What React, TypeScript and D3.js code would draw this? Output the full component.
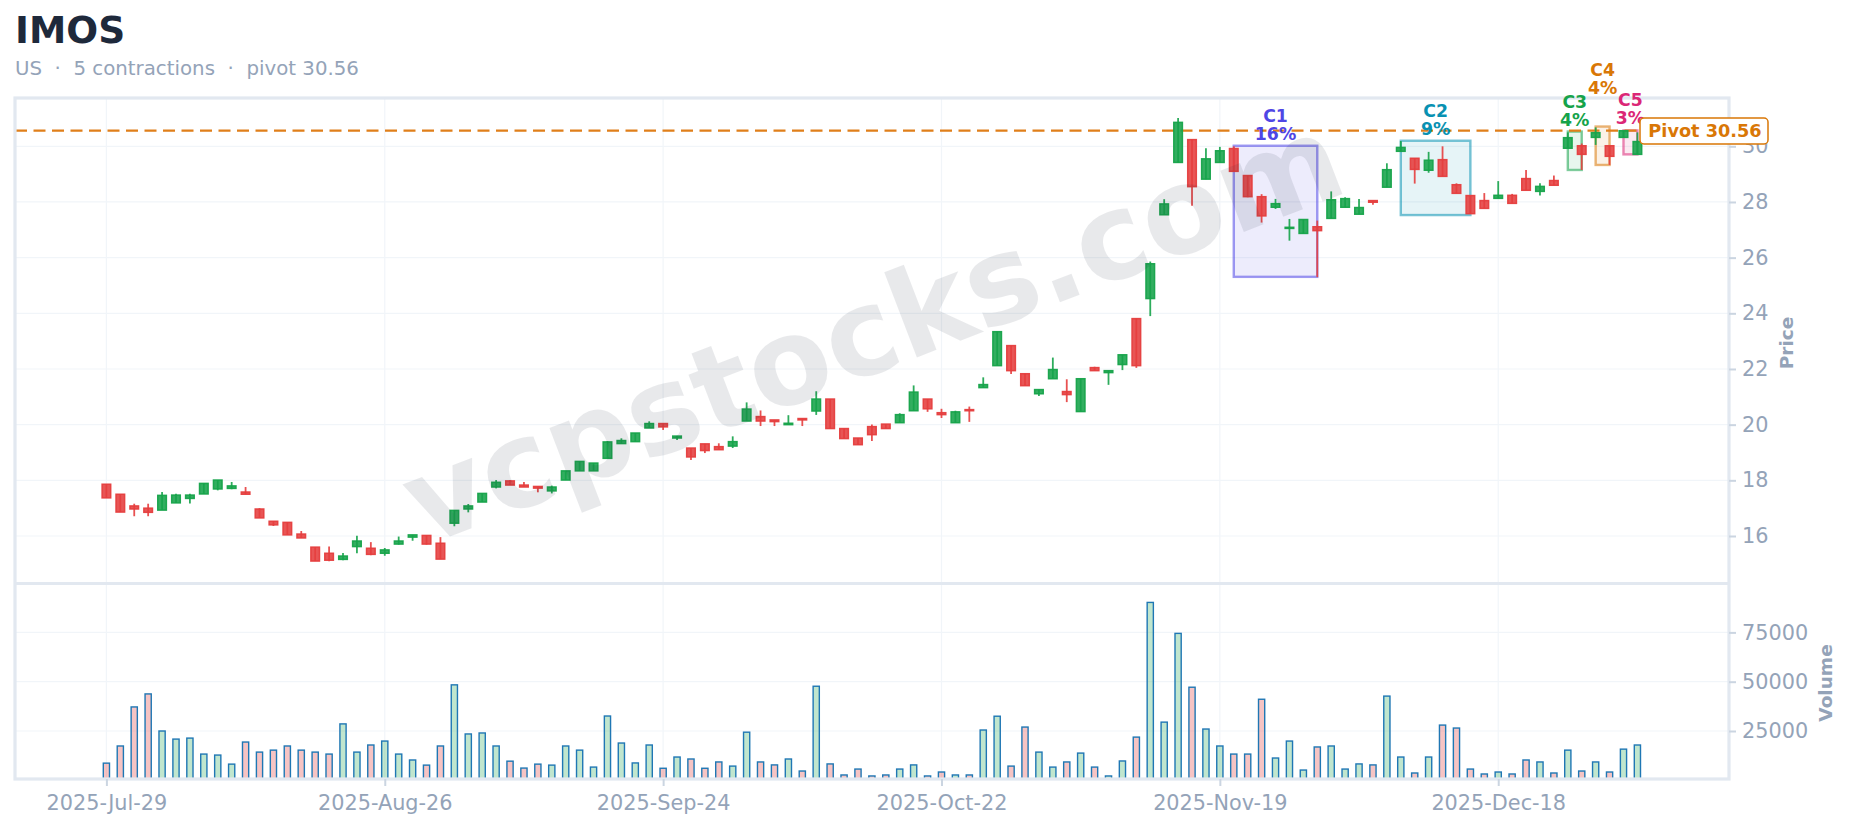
import React, { useEffect, useRef } from "react";
import * as d3 from "d3";

const dates = [
  "2025-07-29","2025-07-30","2025-07-31","2025-08-01",
  "2025-08-04","2025-08-05","2025-08-06","2025-08-07","2025-08-08",
  "2025-08-11","2025-08-12","2025-08-13","2025-08-14","2025-08-15",
  "2025-08-18","2025-08-19","2025-08-20","2025-08-21","2025-08-22",
  "2025-08-25","2025-08-26","2025-08-27","2025-08-28","2025-08-29",
  "2025-09-02","2025-09-03","2025-09-04","2025-09-05",
  "2025-09-08","2025-09-09","2025-09-10","2025-09-11","2025-09-12",
  "2025-09-15","2025-09-16","2025-09-17","2025-09-18","2025-09-19",
  "2025-09-22","2025-09-23","2025-09-24","2025-09-25","2025-09-26",
  "2025-09-29","2025-09-30","2025-10-01","2025-10-02","2025-10-03",
  "2025-10-06","2025-10-07","2025-10-08","2025-10-09","2025-10-10",
  "2025-10-13","2025-10-14","2025-10-15","2025-10-16","2025-10-17",
  "2025-10-20","2025-10-21","2025-10-22","2025-10-23","2025-10-24",
  "2025-10-27","2025-10-28","2025-10-29","2025-10-30","2025-10-31",
  "2025-11-03","2025-11-04","2025-11-05","2025-11-06","2025-11-07",
  "2025-11-10","2025-11-11","2025-11-12","2025-11-13","2025-11-14",
  "2025-11-17","2025-11-18","2025-11-19","2025-11-20","2025-11-21",
  "2025-11-24","2025-11-25","2025-11-26","2025-11-28",
  "2025-12-01","2025-12-02","2025-12-03","2025-12-04","2025-12-05",
  "2025-12-08","2025-12-09","2025-12-10","2025-12-11","2025-12-12",
  "2025-12-15","2025-12-16","2025-12-17","2025-12-18","2025-12-19",
  "2025-12-22","2025-12-23","2025-12-24","2025-12-26",
  "2025-12-29","2025-12-30","2025-12-31","2026-01-02","2026-01-05",
];

const open = [
  17.86,17.50,17.08,17.00,16.93,17.19,17.35,17.51,17.69,17.71,
  17.58,16.97,16.53,16.49,16.07,15.60,15.38,15.16,15.62,15.56,
  15.38,15.71,15.96,16.02,15.74,16.46,16.97,17.22,17.76,17.98,
  17.83,17.78,17.62,18.01,18.34,18.34,18.79,19.32,19.39,19.88,
  20.04,19.52,19.16,19.31,19.21,19.23,20.13,20.29,20.17,20.00,
  20.22,20.49,20.92,19.86,19.52,19.93,20.02,20.07,20.50,20.92,
  20.43,20.07,20.54,21.33,22.12,22.84,21.83,21.11,21.65,21.19,
  20.47,22.05,21.87,22.16,23.81,24.53,27.54,29.42,30.24,28.82,
  29.42,29.92,28.95,28.19,27.81,27.05,26.87,27.11,27.41,27.81,
  27.56,28.05,28.53,29.82,29.57,29.14,29.52,28.62,28.23,28.05,
  28.13,28.24,28.84,28.38,28.77,29.93,30.02,30.32,30.02,30.32,29.71,
];
const high = [
  17.86,17.50,17.16,17.16,17.58,17.52,17.52,17.89,18.01,17.94,
  17.76,17.00,16.53,16.49,16.18,15.60,15.62,15.39,16.01,15.78,
  15.57,15.98,16.04,16.02,15.96,16.92,17.15,17.53,18.01,18.01,
  17.94,17.78,17.81,18.34,18.68,18.62,19.41,19.51,19.70,20.12,
  20.04,19.59,19.16,19.31,19.33,19.58,20.80,20.51,20.17,20.34,
  20.22,21.20,20.92,19.86,19.52,20.01,20.02,20.41,21.41,20.92,
  20.57,20.50,20.65,21.70,23.35,22.84,21.83,21.26,22.41,21.63,
  21.65,22.08,21.94,22.51,23.81,25.86,28.10,31.02,30.24,29.93,
  29.98,30.00,28.95,28.28,28.11,27.39,27.37,27.33,28.38,28.17,
  28.11,28.05,29.39,30.19,29.57,29.80,30.00,28.67,28.23,28.32,
  28.75,28.29,29.15,28.67,28.95,30.50,30.10,30.68,30.02,30.56,30.50,
];
const low = [
  17.37,16.86,16.71,16.71,16.93,17.19,17.17,17.51,17.64,17.68,
  17.50,16.65,16.36,16.04,15.93,15.10,15.09,15.13,15.38,15.31,
  15.29,15.69,15.83,15.69,15.17,16.35,16.85,17.22,17.71,17.83,
  17.76,17.57,17.53,18.01,18.34,18.34,18.79,19.32,19.39,19.88,
  19.81,19.45,18.73,18.98,19.10,19.16,20.13,19.95,19.95,20.00,
  19.95,20.35,19.86,19.50,19.28,19.41,19.86,20.07,20.50,20.46,
  20.24,20.07,20.10,21.33,22.12,21.82,21.40,21.03,21.65,20.81,
  20.47,21.94,21.43,21.96,22.04,23.90,27.54,29.42,27.86,28.82,
  29.42,29.10,28.17,27.26,27.75,26.61,26.87,25.30,27.41,27.81,
  27.56,27.90,28.53,29.82,28.66,29.05,28.92,28.31,27.58,27.77,
  28.13,27.95,28.42,28.23,28.60,29.93,29.15,30.05,29.33,30.32,29.71,
];
const close = [
  17.37,16.86,16.97,16.85,17.46,17.47,17.47,17.89,18.01,17.80,
  17.50,16.65,16.40,16.04,15.93,15.10,15.13,15.28,15.82,15.34,
  15.50,15.82,16.04,15.71,15.17,16.92,17.08,17.53,17.93,17.83,
  17.76,17.72,17.76,18.34,18.68,18.62,19.38,19.43,19.70,20.04,
  19.92,19.59,18.84,19.07,19.10,19.39,20.56,20.13,20.11,20.05,
  20.17,20.92,19.86,19.50,19.28,19.64,19.86,20.36,21.17,20.57,
  20.36,20.46,20.50,21.44,23.34,21.94,21.40,21.26,21.98,21.08,
  21.65,21.94,21.94,22.51,22.12,25.78,27.93,30.86,28.55,29.55,
  29.84,29.10,28.19,27.50,27.94,27.09,27.37,26.97,28.08,28.12,
  27.80,27.99,29.16,29.96,29.17,29.50,28.92,28.31,27.58,27.77,
  28.24,27.95,28.42,28.56,28.60,30.31,29.71,30.49,29.64,30.56,30.17,
];
const volume = [
  8700,17400,37200,43800,25000,20900,21400,13300,12800,8200,
  19400,14300,15300,17400,15300,14300,13300,28600,14300,17900,
  19900,13300,10300,7700,17400,48400,23500,24000,17400,9700,
  6200,8200,7700,17400,15300,6700,32600,18900,8800,17900,
  6100,11800,10800,6100,9300,7200,24400,9300,7800,10800,
  4700,47700,8300,2700,5700,2200,2700,5700,7800,2200,
  4200,2700,2700,25500,32500,7200,27000,14300,6700,9300,
  13800,6700,2200,9800,21900,90200,29500,74500,47200,26000,
  17400,13300,13300,41100,11300,19900,5200,16900,17400,5700,
  8300,7800,42700,11800,3700,11800,28000,26500,5700,3200,
  4200,3200,10300,9300,3700,15300,4700,9300,4200,15800,17900,
];

const xTickDates = ["2025-07-29","2025-08-26","2025-09-24","2025-10-22","2025-11-19","2025-12-18"];
const priceTicks = [16, 18, 20, 22, 24, 26, 28, 30];
const volumeTicks = [25000, 50000, 75000];
const pivot = 30.56;

const contractionLabels = ["C1", "C2", "C3", "C4", "C5"];
const contractionDepths = ["16%", "9%", "4%", "4%", "3%"];
const contractionStart = ["2025-11-20", "2025-12-09", "2025-12-26", "2025-12-30", "2026-01-02"];
const contractionEnd = ["2025-12-01", "2025-12-16", "2025-12-29", "2025-12-31", "2026-01-05"];
const contractionTop = [30.02, 30.2, 30.53, 30.71, 30.57];
const contractionBottom = [25.31, 27.53, 29.15, 29.33, 29.71];
const contractionColors = ["#4f46e5", "#0891b2", "#16a34a", "#d97706", "#db2777"];
// C4's label is pushed up a row so it clears C3 and C5
const contractionLift = [0, 0, 0, 27, 0];

const FONT = "'DejaVu Sans', sans-serif";
const W = 1852;
const H = 829;
const frame = { left: 15, right: 1729, top: 98, split: 583.5, bottom: 779 };
const UP = "#16a34a";
const DOWN = "#e53e3e";
const MUTED = "#94a3b8";
const LINE = "#e2e8f0";
const GRID = "#f1f5f9";

export default function App() {
  const ref = useRef<SVGSVGElement>(null);

  useEffect(() => {
    if (!ref.current) return;
    const svg = d3.select(ref.current);
    svg.selectAll("*").remove();

    const x = d3.scalePoint<string>().domain(dates).range([106.4, 1637.4]);
    const y = d3.scaleLinear().domain([16, 30]).range([536, 146.3]);
    const yVol = d3.scaleLinear().domain([25000, 75000]).range([731, 632.4]);

    // grid first, everything else sits on it
    const grid = svg.append("g");
    xTickDates.forEach(d => {
      grid.append("line").attr("x1", x(d)!).attr("x2", x(d)!)
        .attr("y1", frame.top).attr("y2", frame.bottom)
        .attr("stroke", GRID).attr("stroke-width", 1.2);
    });
    priceTicks.forEach(t => {
      grid.append("line").attr("x1", frame.left).attr("x2", frame.right)
        .attr("y1", y(t)).attr("y2", y(t))
        .attr("stroke", GRID).attr("stroke-width", 1.2);
    });
    volumeTicks.forEach(t => {
      grid.append("line").attr("x1", frame.left).attr("x2", frame.right)
        .attr("y1", yVol(t)).attr("y2", yVol(t))
        .attr("stroke", GRID).attr("stroke-width", 1.2);
    });

    // contraction boxes
    contractionLabels.forEach((_, i) => {
      const x0 = x(contractionStart[i])!;
      const x1 = x(contractionEnd[i])!;
      svg.append("rect")
        .attr("x", x0).attr("y", y(contractionTop[i]))
        .attr("width", x1 - x0).attr("height", y(contractionBottom[i]) - y(contractionTop[i]))
        .attr("fill", contractionColors[i]).attr("fill-opacity", 0.1)
        .attr("stroke", contractionColors[i]).attr("stroke-opacity", 0.55).attr("stroke-width", 2.4);
    });

    // pivot line
    svg.append("line")
      .attr("x1", frame.left).attr("x2", frame.right)
      .attr("y1", y(pivot)).attr("y2", y(pivot))
      .attr("stroke", "#e07f1a").attr("stroke-width", 2.2).attr("stroke-dasharray", "12,6.5");

    // candles
    const candles = svg.append("g");
    dates.forEach((d, i) => {
      const color = close[i] >= open[i] ? UP : DOWN;
      const top = y(Math.max(open[i], close[i]));
      const bottom = y(Math.min(open[i], close[i]));
      candles.append("line")
        .attr("x1", x(d)!).attr("x2", x(d)!)
        .attr("y1", y(high[i])).attr("y2", y(low[i]))
        .attr("stroke", color).attr("stroke-width", 1.8).attr("stroke-opacity", 0.9);
      candles.append("rect")
        .attr("x", x(d)! - 4.3).attr("y", top)
        .attr("width", 8.6).attr("height", Math.max(bottom - top, 0.6))
        .attr("fill", color).attr("fill-opacity", 0.88)
        .attr("stroke", color).attr("stroke-width", 1.5).attr("stroke-opacity", 0.95);
    });

    // volume bars
    const bars = svg.append("g");
    dates.forEach((d, i) => {
      bars.append("rect")
        .attr("x", x(d)! - 3.1).attr("y", yVol(volume[i]))
        .attr("width", 6.2).attr("height", frame.bottom - yVol(volume[i]))
        .attr("fill", close[i] >= open[i] ? "#16a34a" : "#dc2626").attr("fill-opacity", 0.27)
        .attr("stroke", "#1f77b4").attr("stroke-width", 1.4);
    });

    // frame
    const border = svg.append("g").attr("fill", "none").attr("stroke", LINE).attr("stroke-width", 3.2);
    border.append("rect").attr("x", frame.left).attr("y", frame.top)
      .attr("width", frame.right - frame.left).attr("height", frame.bottom - frame.top);
    border.append("line").attr("x1", frame.left).attr("x2", frame.right)
      .attr("y1", frame.split).attr("y2", frame.split);

    // axes
    const styleAxis = (g: d3.Selection<SVGGElement, unknown, null, undefined>) => {
      g.select(".domain").remove();
      g.selectAll(".tick line").attr("stroke", "#cbd5e1").attr("stroke-width", 2);
      g.selectAll(".tick text").attr("fill", MUTED).style("font-family", FONT).style("font-size", "20.8px");
    };
    const xAxis = d3.axisBottom(x).tickValues(xTickDates).tickSize(7).tickPadding(9)
      .tickFormat(d => d3.timeFormat("%Y-%b-%d")(d3.timeParse("%Y-%m-%d")(d)!));
    svg.append("g").attr("transform", `translate(0,${frame.bottom})`).call(xAxis).call(styleAxis as any);
    const priceAxis = d3.axisRight(y).tickValues(priceTicks).tickSize(7).tickPadding(6);
    svg.append("g").attr("transform", `translate(${frame.right},0)`).call(priceAxis).call(styleAxis as any);
    const volAxis = d3.axisRight(yVol).tickValues(volumeTicks).tickSize(7).tickPadding(6).tickFormat(d3.format("d") as any);
    svg.append("g").attr("transform", `translate(${frame.right},0)`).call(volAxis).call(styleAxis as any);

    // axis titles
    svg.append("text").attr("transform", "translate(1793,343) rotate(-90)")
      .attr("text-anchor", "middle").attr("fill", MUTED)
      .style("font-family", FONT).style("font-size", "18.5px").style("font-weight", "bold").text("Price");
    svg.append("text").attr("transform", "translate(1832,683) rotate(-90)")
      .attr("text-anchor", "middle").attr("fill", MUTED)
      .style("font-family", FONT).style("font-size", "18.5px").style("font-weight", "bold").text("Volume");

    // watermark
    svg.append("text").attr("transform", "translate(876,338) rotate(-21)")
      .attr("text-anchor", "middle").attr("dominant-baseline", "middle")
      .attr("fill", "#1e293b").attr("fill-opacity", 0.1)
      .style("font-family", FONT).style("font-size", "120px").style("font-weight", "bold")
      .text("vcpstocks.com");

    // contraction labels
    contractionLabels.forEach((label, i) => {
      const cx = (x(contractionStart[i])! + x(contractionEnd[i])!) / 2;
      const top = y(contractionTop[i]) - contractionLift[i];
      [label, contractionDepths[i]].forEach((s, k) => {
        svg.append("text")
          .attr("x", cx).attr("y", top - 24 + k * 18)
          .attr("text-anchor", "middle").attr("fill", contractionColors[i])
          .style("font-family", FONT).style("font-size", "17.3px").style("font-weight", "bold")
          .text(s);
      });
    });

    // pivot tag
    svg.append("rect").attr("x", 1640).attr("y", 118).attr("width", 128).attr("height", 26).attr("rx", 4)
      .attr("fill", "#fff").attr("stroke", "#d97706").attr("stroke-width", 1.5);
    svg.append("text").attr("x", 1705).attr("y", 136.5).attr("text-anchor", "middle")
      .attr("fill", "#d97706")
      .style("font-family", FONT).style("font-size", "17.7px").style("font-weight", "bold")
      .text(`Pivot ${pivot}`);

    // title block
    svg.append("text").attr("x", 15).attr("y", 43).attr("fill", "#1e293b")
      .style("font-family", FONT).style("font-size", "37.5px").style("font-weight", "bold").text("IMOS");
    svg.append("text").attr("x", 15).attr("y", 75).attr("fill", MUTED)
      .style("font-family", FONT).style("font-size", "19.8px").style("white-space", "pre")
      .text(`US  \u00b7  5 contractions  \u00b7  pivot ${pivot}`);
  }, []);

  return <svg ref={ref} width={W} height={H} style={{ position: "absolute", left: 0, top: 0, display: "block", background: "#fff" }} />;
}
